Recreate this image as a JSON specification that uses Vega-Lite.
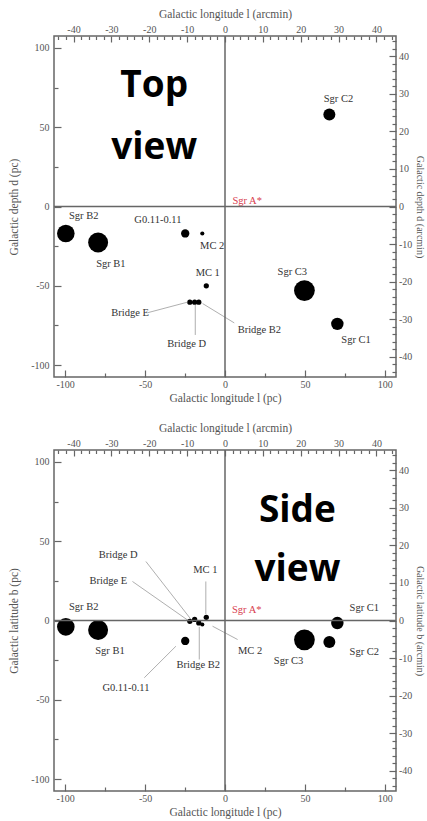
{
  "$schema": "https://vega.github.io/schema/vega-lite/v6.json",
  "background": "white",
  "padding": {"left": 7, "top": 7, "right": 0, "bottom": 0},
  "bounds": "flush",
  "spacing": 73,
  "datasets": {
    "top": [
      {"name": "Sgr C2", "l": 65.3, "d": 58, "diam": 7.5, "lx": 71, "ly": 68},
      {"name": "Sgr B2", "l": -99.6, "d": -17, "diam": 11, "lx": -88.4, "ly": -6.1},
      {"name": "Sgr B1", "l": -79.4, "d": -22.7, "diam": 12.5, "lx": -71.4, "ly": -36},
      {"name": "G0.11-0.11", "l": -24.9, "d": -17, "diam": 5.2, "lx": -42, "ly": -8.2},
      {"name": "MC 2", "l": -14.2, "d": -17, "diam": 2.6, "lx": -8, "ly": -24.6},
      {"name": "MC 1", "l": -11.7, "d": -50, "diam": 3.3, "lx": -10.8, "ly": -41.8},
      {"name": "Bridge E", "l": -22, "d": -60.3, "diam": 3.3, "lx": -59.4, "ly": -67},
      {"name": "Bridge D", "l": -19, "d": -60.3, "diam": 3.3, "lx": -24, "ly": -86.5},
      {"name": "Bridge B2", "l": -16.4, "d": -60.3, "diam": 3.3, "lx": 21.5, "ly": -77.6},
      {"name": "Sgr C3", "l": 49.7, "d": -53, "diam": 13, "lx": 42.1, "ly": -41.4},
      {"name": "Sgr C1", "l": 70.3, "d": -74, "diam": 7.8, "lx": 82, "ly": -84},
      {"name": "Sgr A*", "l": 0, "d": 0, "diam": 0, "lx": 13.9, "ly": 3.3}
    ],
    "side": [
      {"name": "Sgr B2", "l": -99.6, "b": -4, "diam": 11, "lx": -88.4, "ly": 8.3},
      {"name": "Sgr B1", "l": -79.4, "b": -6, "diam": 12.5, "lx": -72, "ly": -19.4},
      {"name": "G0.11-0.11", "l": -24.9, "b": -12.9, "diam": 5.2, "lx": -62, "ly": -42.4},
      {"name": "Bridge E", "l": -22, "b": -0.5, "diam": 3.3, "lx": -73, "ly": 24.6},
      {"name": "Bridge D", "l": -19, "b": 0.7, "diam": 3.3, "lx": -66.8, "ly": 41},
      {"name": "Bridge B2", "l": -16.4, "b": -1.5, "diam": 3.3, "lx": -16.7, "ly": -28.1},
      {"name": "MC 2", "l": -14.2, "b": -2.5, "diam": 2.6, "lx": 15.7, "ly": -19.4},
      {"name": "MC 1", "l": -11.7, "b": 2, "diam": 3.3, "lx": -12.3, "ly": 31.9},
      {"name": "Sgr C3", "l": 49.7, "b": -12.2, "diam": 13, "lx": 39.8, "ly": -25.6},
      {"name": "Sgr C2", "l": 65.3, "b": -13.5, "diam": 7.5, "lx": 87.2, "ly": -19.8},
      {"name": "Sgr C1", "l": 70.3, "b": -1.6, "diam": 7.8, "lx": 87.2, "ly": 7.9},
      {"name": "Sgr A*", "l": 0, "b": 0, "diam": 0, "lx": 13.6, "ly": 6.8}
    ],
    "topLinks": [
      {"name": "Bridge E", "x1": -48.5, "y1": -67, "x2": -23.4, "y2": -60.3},
      {"name": "Bridge D", "x1": -18.6, "y1": -62, "x2": -18.6, "y2": -81},
      {"name": "Bridge B2", "x1": -14, "y1": -61.2, "x2": 5.8, "y2": -73.4}
    ],
    "sideLinks": [
      {"name": "Bridge D", "x1": -49.5, "y1": 37.2, "x2": -21.5, "y2": 1},
      {"name": "Bridge E", "x1": -57.9, "y1": 24.6, "x2": -23, "y2": 0},
      {"name": "MC 1", "x1": -12, "y1": 24.6, "x2": -12, "y2": 4},
      {"name": "MC 2", "x1": -7.8, "y1": -3.6, "x2": 7.9, "y2": -12},
      {"name": "Bridge B2", "x1": -16.1, "y1": -4, "x2": -16.1, "y2": -24.6},
      {"name": "G0.11-0.11", "x1": -50.5, "y1": -36.1, "x2": -30.7, "y2": -16.2}
    ]
  },
  "vconcat": [
    {
      "width": 342,
      "height": 341,
      "layer": [
        {
          "data": {"name": "top"},
          "transform": [{"filter": "datum.diam > 0"}],
          "mark": {"type": "circle", "color": "#000", "opacity": 1},
          "encoding": {
            "x": {"field": "l", "type": "quantitative", "scale": {"domain": [-107, 107], "nice": false, "zero": false},
              "axis": {"orient": "bottom", "title": "Galactic longitude l (pc)", "values": [-100, -75, -50, -25, 0, 25, 50, 75, 100],
                "labelExpr": "datum.value % 50 === 0 ? '' + datum.value : ''", "labelPadding": 9, "titlePadding": 0,
                "tickSize": {"condition": {"test": "datum.value % 50 === 0", "value": -7}, "value": -4}}},
            "y": {"field": "d", "type": "quantitative", "scale": {"domain": [-107.5, 107.5], "nice": false, "zero": false},
              "axis": {"orient": "left", "title": "Galactic depth d (pc)", "values": [-100, -75, -50, -25, 0, 25, 50, 75, 100],
                "labelExpr": "datum.value % 50 === 0 ? '' + datum.value : ''", "labelPadding": 12, "titlePadding": 11,
                "tickSize": {"condition": {"test": "datum.value % 50 === 0", "value": -7}, "value": -4}}},
            "size": {"field": "diam", "type": "quantitative", "scale": {"type": "pow", "exponent": 2, "domain": [0, 10], "range": [0, 255]}, "legend": null}
          }
        },
        {
          "data": {"name": "topLinks"},
          "mark": {"type": "rule", "color": "#9a9a9a", "strokeWidth": 0.8},
          "encoding": {
            "x": {"field": "x1", "type": "quantitative", "scale": {"domain": [-107, 107], "nice": false, "zero": false}, "axis": null},
            "y": {"field": "y1", "type": "quantitative", "scale": {"domain": [-107.5, 107.5], "nice": false, "zero": false}, "axis": null},
            "x2": {"field": "x2"},
            "y2": {"field": "y2"}
          }
        },
        {
          "data": {"name": "top"},
          "mark": {"type": "text", "font": "Liberation Serif", "fontSize": 10.5, "align": "center", "baseline": "middle"},
          "encoding": {
            "x": {"field": "lx", "type": "quantitative", "scale": {"domain": [-107, 107], "nice": false, "zero": false}, "axis": null},
            "y": {"field": "ly", "type": "quantitative", "scale": {"domain": [-107.5, 107.5], "nice": false, "zero": false}, "axis": null},
            "text": {"field": "name"},
            "color": {"condition": {"test": "datum.name === 'Sgr A*'", "value": "#d8404f"}, "value": "#333"}
          }
        },
        {
          "data": {"values": [{}]},
          "mark": {"type": "text", "text": ["Top", "view"], "font": "Open Sans", "fontWeight": "bold", "fontSize": 37, "lineHeight": 62, "align": "center", "baseline": "alphabetic", "color": "#000"},
          "encoding": {
            "x": {"datum": -44.3, "type": "quantitative", "scale": {"domain": [-107, 107], "nice": false, "zero": false}, "axis": null},
            "y": {"datum": 69.3, "type": "quantitative", "scale": {"domain": [-107.5, 107.5], "nice": false, "zero": false}, "axis": null}
          }
        },
        {
          "data": {"values": [{}]},
          "mark": {"type": "rule", "color": "#666", "strokeWidth": 1.5},
          "encoding": {
            "x": {"datum": 0, "type": "quantitative", "scale": {"domain": [-45.15, 45.15], "nice": false, "zero": false},
              "axis": {"orient": "top", "title": "Galactic longitude l (arcmin)",
                "values": [-44, -42, -40, -38, -36, -34, -32, -30, -28, -26, -24, -22, -20, -18, -16, -14, -12, -10, -8, -6, -4, -2, 0, 2, 4, 6, 8, 10, 12, 14, 16, 18, 20, 22, 24, 26, 28, 30, 32, 34, 36, 38, 40, 42, 44],
                "labelExpr": "datum.value % 10 === 0 ? '' + datum.value : ''", "labelPadding": 7.5, "titlePadding": 3,
                "tickSize": {"condition": {"test": "datum.value % 10 === 0", "value": -6}, "value": -3.5}}}
          }
        },
        {
          "data": {"values": [{}]},
          "mark": {"type": "rule", "color": "#666", "strokeWidth": 1.5},
          "encoding": {
            "y": {"datum": 0, "type": "quantitative", "scale": {"domain": [-45.36, 45.36], "nice": false, "zero": false},
              "axis": {"orient": "right", "title": "Galactic depth d (arcmin)", "titleFontSize": 10,
                "values": [-44, -42, -40, -38, -36, -34, -32, -30, -28, -26, -24, -22, -20, -18, -16, -14, -12, -10, -8, -6, -4, -2, 0, 2, 4, 6, 8, 10, 12, 14, 16, 18, 20, 22, 24, 26, 28, 30, 32, 34, 36, 38, 40, 42, 44],
                "labelExpr": "datum.value % 10 === 0 ? '' + datum.value : ''", "labelPadding": 9.5, "titlePadding": 3,
                "tickSize": {"condition": {"test": "datum.value % 10 === 0", "value": -7}, "value": -4}}}
          }
        }
      ],
      "resolve": {"scale": {"x": "independent", "y": "independent"}, "axis": {"x": "independent", "y": "independent"}}
    },
    {
      "width": 342,
      "height": 341,
      "layer": [
        {
          "data": {"name": "side"},
          "transform": [{"filter": "datum.diam > 0"}],
          "mark": {"type": "circle", "color": "#000", "opacity": 1},
          "encoding": {
            "x": {"field": "l", "type": "quantitative", "scale": {"domain": [-107, 107], "nice": false, "zero": false},
              "axis": {"orient": "bottom", "title": "Galactic longitude l (pc)", "values": [-100, -75, -50, -25, 0, 25, 50, 75, 100],
                "labelExpr": "datum.value % 50 === 0 ? '' + datum.value : ''", "labelPadding": 9, "titlePadding": 0,
                "tickSize": {"condition": {"test": "datum.value % 50 === 0", "value": -7}, "value": -4}}},
            "y": {"field": "b", "type": "quantitative", "scale": {"domain": [-107.5, 107.5], "nice": false, "zero": false},
              "axis": {"orient": "left", "title": "Galactic latitude b (pc)", "values": [-100, -75, -50, -25, 0, 25, 50, 75, 100],
                "labelExpr": "datum.value % 50 === 0 ? '' + datum.value : ''", "labelPadding": 12, "titlePadding": 11,
                "tickSize": {"condition": {"test": "datum.value % 50 === 0", "value": -7}, "value": -4}}},
            "size": {"field": "diam", "type": "quantitative", "scale": {"type": "pow", "exponent": 2, "domain": [0, 10], "range": [0, 255]}, "legend": null}
          }
        },
        {
          "data": {"name": "sideLinks"},
          "mark": {"type": "rule", "color": "#9a9a9a", "strokeWidth": 0.8},
          "encoding": {
            "x": {"field": "x1", "type": "quantitative", "scale": {"domain": [-107, 107], "nice": false, "zero": false}, "axis": null},
            "y": {"field": "y1", "type": "quantitative", "scale": {"domain": [-107.5, 107.5], "nice": false, "zero": false}, "axis": null},
            "x2": {"field": "x2"},
            "y2": {"field": "y2"}
          }
        },
        {
          "data": {"name": "side"},
          "mark": {"type": "text", "font": "Liberation Serif", "fontSize": 10.5, "align": "center", "baseline": "middle"},
          "encoding": {
            "x": {"field": "lx", "type": "quantitative", "scale": {"domain": [-107, 107], "nice": false, "zero": false}, "axis": null},
            "y": {"field": "ly", "type": "quantitative", "scale": {"domain": [-107.5, 107.5], "nice": false, "zero": false}, "axis": null},
            "text": {"field": "name"},
            "color": {"condition": {"test": "datum.name === 'Sgr A*'", "value": "#d8404f"}, "value": "#333"}
          }
        },
        {
          "data": {"values": [{}]},
          "mark": {"type": "text", "text": ["Side", "view"], "font": "Open Sans", "fontWeight": "bold", "fontSize": 37, "lineHeight": 59, "align": "center", "baseline": "alphabetic", "color": "#000"},
          "encoding": {
            "x": {"datum": 45.3, "type": "quantitative", "scale": {"domain": [-107, 107], "nice": false, "zero": false}, "axis": null},
            "y": {"datum": 62.1, "type": "quantitative", "scale": {"domain": [-107.5, 107.5], "nice": false, "zero": false}, "axis": null}
          }
        },
        {
          "data": {"values": [{}]},
          "mark": {"type": "rule", "color": "#666", "strokeWidth": 1.5},
          "encoding": {
            "x": {"datum": 0, "type": "quantitative", "scale": {"domain": [-45.15, 45.15], "nice": false, "zero": false},
              "axis": {"orient": "top", "title": "Galactic longitude l (arcmin)",
                "values": [-44, -42, -40, -38, -36, -34, -32, -30, -28, -26, -24, -22, -20, -18, -16, -14, -12, -10, -8, -6, -4, -2, 0, 2, 4, 6, 8, 10, 12, 14, 16, 18, 20, 22, 24, 26, 28, 30, 32, 34, 36, 38, 40, 42, 44],
                "labelExpr": "datum.value % 10 === 0 ? '' + datum.value : ''", "labelPadding": 7.5, "titlePadding": 3,
                "tickSize": {"condition": {"test": "datum.value % 10 === 0", "value": -6}, "value": -3.5}}}
          }
        },
        {
          "data": {"values": [{}]},
          "mark": {"type": "rule", "color": "#666", "strokeWidth": 1.5},
          "encoding": {
            "y": {"datum": 0, "type": "quantitative", "scale": {"domain": [-45.36, 45.36], "nice": false, "zero": false},
              "axis": {"orient": "right", "title": "Galactic latitude b (arcmin)", "titleFontSize": 10,
                "values": [-44, -42, -40, -38, -36, -34, -32, -30, -28, -26, -24, -22, -20, -18, -16, -14, -12, -10, -8, -6, -4, -2, 0, 2, 4, 6, 8, 10, 12, 14, 16, 18, 20, 22, 24, 26, 28, 30, 32, 34, 36, 38, 40, 42, 44],
                "labelExpr": "datum.value % 10 === 0 ? '' + datum.value : ''", "labelPadding": 9.5, "titlePadding": 3,
                "tickSize": {"condition": {"test": "datum.value % 10 === 0", "value": -7}, "value": -4}}}
          }
        }
      ],
      "resolve": {"scale": {"x": "independent", "y": "independent"}, "axis": {"x": "independent", "y": "independent"}}
    }
  ],
  "config": {
    "view": {"stroke": "#666", "strokeWidth": 1.5},
    "axis": {
      "grid": false,
      "domain": false,
      "labelOverlap": false,
      "labelFlush": false,
      "labelFont": "Liberation Serif",
      "labelFontSize": 10,
      "labelColor": "#555",
      "titleFont": "Liberation Serif",
      "titleFontSize": 11.5,
      "titleFontWeight": "normal",
      "titleColor": "#555",
      "tickColor": "#666",
      "tickWidth": 1.2
    }
  }
}
